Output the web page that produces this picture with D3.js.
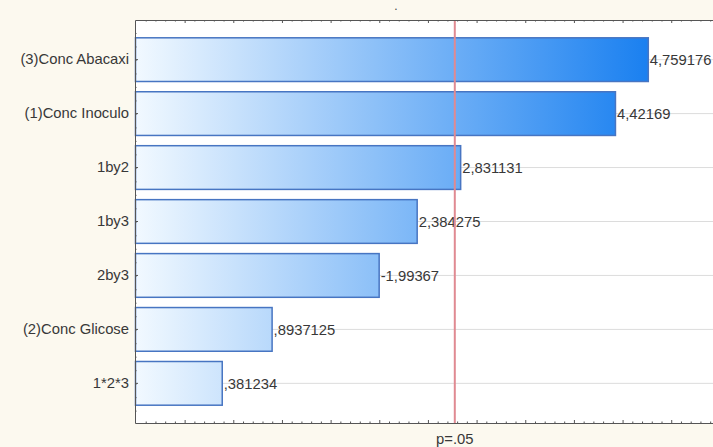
<!DOCTYPE html>
<html>
<head>
<meta charset="utf-8">
<script src="https://cdn.jsdelivr.net/npm/d3@7"></script>
<style>
  html, body { margin: 0; padding: 0; background: #fcf9ef; }
  svg { display: block; }
  text { font-family: "Liberation Sans", Arial, sans-serif; }
</style>
</head>
<body>
<svg id="chart" width="713" height="447"></svg>
<script>
// ---- data ----
const categories = ["(3)Conc Abacaxi", "(1)Conc Inoculo", "1by2", "1by3", "2by3", "(2)Conc Glicose", "1*2*3"];
const effects = [4.759176, 4.42169, 2.831131, 2.384275, -1.99367, 0.8937125, 0.381234];
const pLabel = "p=.05";
const pValueLine = 2.776;
const xDomain = [-0.51, 5.46];
const majorStep = 0.5;
const minorStep = 0.1;

// ---- layout ----
const W = 713, H = 447;
const plot = { left: 135, top: 20, right: 716, bottom: 423 };
const fontSize = 14.8;

const svg = d3.select("#chart");

const x = d3.scaleLinear().domain(xDomain).range([plot.left, plot.right]);
const y = d3.scaleBand().domain(categories).range([plot.top, plot.bottom])
  .paddingInner(0.19).paddingOuter(0.33);

function fmt(v) {
  return String(v).replace(".", ",").replace(/^(-?)0,/, "$1,");
}

// gradient across plot
const defs = svg.append("defs");
const grad = defs.append("linearGradient").attr("id", "barGrad")
  .attr("gradientUnits", "userSpaceOnUse")
  .attr("x1", plot.left).attr("x2", x(d3.max(effects, d => Math.abs(d))))
  .attr("y1", 0).attr("y2", 0);
grad.append("stop").attr("offset", "0%").attr("stop-color", "#f2f9ff");
grad.append("stop").attr("offset", "100%").attr("stop-color", "#1a80f0");

// plot background
svg.append("rect").attr("x", plot.left).attr("y", plot.top)
  .attr("width", plot.right - plot.left).attr("height", plot.bottom - plot.top)
  .attr("fill", "#ffffff");

// horizontal gridlines
svg.append("g").selectAll("line").data(categories).join("line")
  .attr("x1", plot.left).attr("x2", plot.right)
  .attr("y1", d => y(d) + y.bandwidth() / 2).attr("y2", d => y(d) + y.bandwidth() / 2)
  .attr("stroke", "#dcdcdc").attr("stroke-width", 1);

// bars
svg.append("g").selectAll("rect").data(effects).join("rect")
  .attr("x", x(xDomain[0]) + 0.5)
  .attr("y", (d, i) => y(categories[i]))
  .attr("width", d => x(Math.abs(d)) - x(xDomain[0]))
  .attr("height", y.bandwidth())
  .attr("fill", "url(#barGrad)")
  .attr("stroke", "#4775c2").attr("stroke-width", 1.5);

// value labels
svg.append("g").selectAll("text").data(effects).join("text")
  .attr("x", d => x(Math.abs(d)) + 2)
  .attr("y", (d, i) => y(categories[i]) + y.bandwidth() / 2)
  .attr("dy", "0.35em")
  .attr("font-size", fontSize)
  .attr("fill", "#383838")
  .text(d => fmt(d));

// p line
svg.append("line")
  .attr("x1", x(pValueLine)).attr("x2", x(pValueLine))
  .attr("y1", plot.top).attr("y2", plot.bottom)
  .attr("stroke", "#e08a92").attr("stroke-width", 2);

// axes
const majors = d3.range(0, xDomain[1], majorStep);
const minors = d3.range(Math.ceil(xDomain[0] / minorStep) * minorStep, xDomain[1], minorStep)
  .filter(v => Math.abs(v / majorStep - Math.round(v / majorStep)) > 1e-6);

function styleAxis(g) {
  g.selectAll("path, line").attr("stroke", "#555");
  g.selectAll("text").remove();
}

svg.append("g").attr("transform", `translate(0,${plot.top})`)
  .call(d3.axisTop(x).tickValues(majors).tickSize(-3).tickSizeOuter(0).tickFormat(""))
  .call(styleAxis);
svg.append("g").attr("transform", `translate(0,${plot.top})`)
  .call(d3.axisTop(x).tickValues(minors).tickSize(-1.5).tickSizeOuter(0).tickFormat(""))
  .call(g => g.select(".domain").remove()).call(styleAxis);

svg.append("g").attr("transform", `translate(0,${plot.bottom})`)
  .call(d3.axisBottom(x).tickValues(majors).tickSize(-3).tickSizeOuter(0).tickFormat(""))
  .call(styleAxis);
svg.append("g").attr("transform", `translate(0,${plot.bottom})`)
  .call(d3.axisBottom(x).tickValues(minors).tickSize(-1.5).tickSizeOuter(0).tickFormat(""))
  .call(g => g.select(".domain").remove()).call(styleAxis);

// left axis with category ticks
svg.append("g").attr("transform", `translate(${plot.left},0)`)
  .call(d3.axisLeft(y).tickSize(-3).tickSizeOuter(0).tickPadding(6))
  .call(g => g.selectAll("path, line").attr("stroke", "#555"))
  .call(g => g.selectAll("text").attr("font-size", fontSize).attr("fill", "#383838")
    .attr("font-family", '"Liberation Sans", Arial, sans-serif'));
// minor ticks on left axis
const yMinor = d3.range(plot.top + y.step() / 4, plot.bottom, y.step() / 4);
svg.append("g").selectAll("line").data(yMinor).join("line")
  .attr("x1", plot.left).attr("x2", plot.left + 1.5)
  .attr("y1", d => d).attr("y2", d => d)
  .attr("stroke", "#555");

// p label
svg.append("text").attr("x", x(pValueLine)).attr("y", 444)
  .attr("text-anchor", "middle").attr("font-size", fontSize).attr("fill", "#383838")
  .text(pLabel);

// tiny title mark
svg.append("text").attr("x", 396).attr("y", 10)
  .attr("text-anchor", "middle").attr("font-size", 12).attr("fill", "#444")
  .text(".");
</script>
</body>
</html>
